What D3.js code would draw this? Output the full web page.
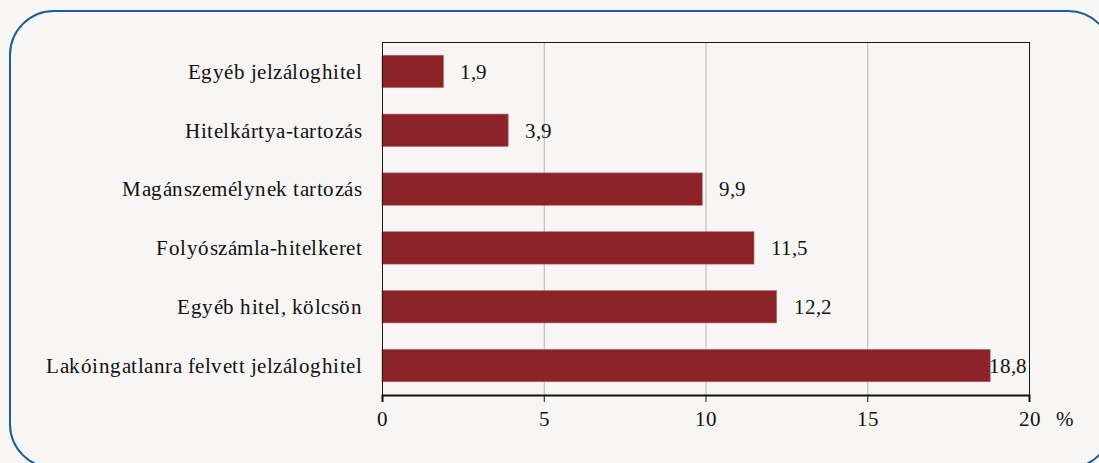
<!DOCTYPE html>
<html>
<head>
<meta charset="utf-8">
<script src="https://cdn.jsdelivr.net/npm/d3@7"></script>
<style>
  html, body { margin: 0; padding: 0; background: #f7f6f4; }
  svg { display: block; }
  @font-face { font-family: "ChartSerif"; src: local("Liberation Serif"), local("LiberationSerif"); }
  html body svg#chart text, html body svg#chart g text {
    font-family: "ChartSerif", "Liberation Serif", "Times New Roman", serif !important;
  }
</style>
</head>
<body>
<svg id="chart" width="1099" height="463"></svg>
<script>
// adatok
const categories = [
    "Egyéb jelzáloghitel",
    "Hitelkártya-tartozás",
    "Magánszemélynek tartozás",
    "Folyószámla-hitelkeret",
    "Egyéb hitel, kölcsön",
    "Lakóingatlanra felvett jelzáloghitel"
];
const values = [1.9, 3.9, 9.9, 11.5, 12.2, 18.8];
const xTicks = [0, 5, 10, 15, 20];

const width = 1099;
const height = 463;
const margin = { top: 42, right: 70, bottom: 68, left: 382 };
const boundsWidth = 1029 - margin.left;
const boundsHeight = height - margin.top - margin.bottom;

const FONT_SIZE = 21;

const svg = d3.select("#chart")
    .attr("width", width)
    .attr("height", height);

// keret
svg.append("rect")
    .attr("x", 10)
    .attr("y", 11)
    .attr("width", 1102)
    .attr("height", 457)
    .attr("rx", 44)
    .attr("ry", 44)
    .attr("fill", "#f7f6f4")
    .attr("stroke", "#1a5d9c")
    .attr("stroke-width", 2);

const scaleX = d3.scaleLinear()
    .domain([0, 20])
    .range([0, boundsWidth]);

const scaleY = d3.scaleBand()
    .domain(categories)
    .range([0, boundsHeight])
    .paddingInner(0.45)
    .paddingOuter(0.225);

const g = svg.append("g")
    .attr("transform", `translate(${margin.left}, ${margin.top})`);

// rács
g.selectAll(".grid")
    .data(xTicks.slice(1, -1))
    .enter()
    .append("line")
    .attr("x1", d => scaleX(d) + 0.5)
    .attr("x2", d => scaleX(d) + 0.5)
    .attr("y1", 0)
    .attr("y2", boundsHeight)
    .attr("stroke", "#b4b4b4")
    .attr("stroke-width", 1);

// oszlopok
g.selectAll(".bar")
    .data(values)
    .enter()
    .append("rect")
    .attr("x", 0)
    .attr("y", (d, i) => scaleY(categories[i]))
    .attr("width", d => scaleX(d))
    .attr("height", scaleY.bandwidth())
    .attr("fill", "#8b2328")
    .attr("stroke", "#b56a6c")
    .attr("stroke-width", 0.6);

// plot keret
g.append("rect")
    .attr("x", 0.5)
    .attr("y", 0.5)
    .attr("width", boundsWidth)
    .attr("height", boundsHeight)
    .attr("fill", "none")
    .attr("stroke", "#1a1a1a")
    .attr("stroke-width", 1);

// értékcímkék
g.selectAll(".val")
    .data(values)
    .enter()
    .append("text")
    .attr("x", d => scaleX(d) + 17)
    .attr("y", (d, i) => scaleY(categories[i]) + scaleY.bandwidth() / 2)
    .attr("dy", "0.35em")
    .attr("font-size", FONT_SIZE)
    .attr("fill", "#111")
    .text(d => d3.format(".1f")(d).replace(".", ","))
    .each(function (d) {
        // ami nem fér ki, a keret belső széléhez kerül
        if (d > 18) {
            d3.select(this).attr("x", boundsWidth - 2).attr("text-anchor", "end");
        }
    });

// X tengely
const xAxis = d3.axisBottom(scaleX)
    .tickValues(xTicks)
    .tickSize(7)
    .tickPadding(9)
    .tickFormat(d3.format("d"));
const ax = g.append("g")
    .attr("transform", `translate(0, ${boundsHeight})`)
    .call(xAxis)
    .attr("font-size", FONT_SIZE);
ax.select(".domain").attr("stroke", "#111").attr("stroke-width", 2);
ax.selectAll(".tick line").attr("stroke", "#111");
ax.selectAll(".tick text").attr("fill", "#111");

svg.append("text")
    .attr("x", margin.left + boundsWidth + 36)
    .attr("y", margin.top + boundsHeight + 16)
    .attr("dy", "0.71em")
    .attr("text-anchor", "middle")
    .attr("font-size", FONT_SIZE)
    .attr("fill", "#111")
    .text("%");

// Y kategóriák
g.selectAll(".cat")
    .data(categories)
    .enter()
    .append("text")
    .attr("x", -20)
    .attr("y", d => scaleY(d) + scaleY.bandwidth() / 2)
    .attr("dy", "0.35em")
    .attr("text-anchor", "end")
    .attr("font-size", FONT_SIZE)
    .attr("letter-spacing", 0.5)
    .attr("fill", "#111")
    .text(d => d);
</script>
</body>
</html>
